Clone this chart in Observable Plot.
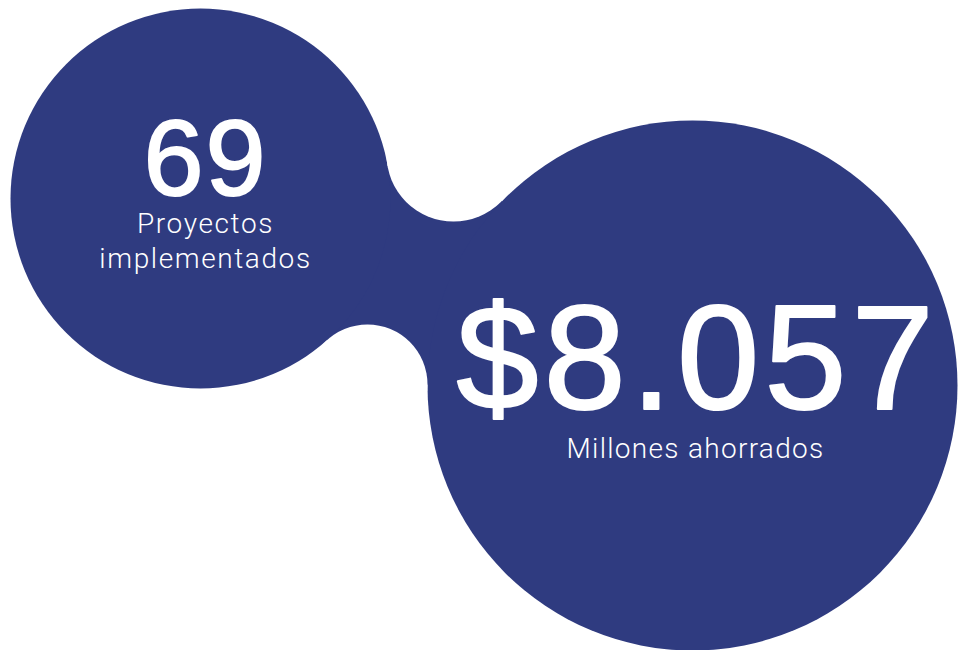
<!DOCTYPE html>
<html>
<head>
<meta charset="utf-8">
<script src="https://cdn.jsdelivr.net/npm/d3@7"></script>
<script src="https://cdn.jsdelivr.net/npm/@observablehq/plot@0.6"></script>
<style>
  html, body { margin: 0; padding: 0; background: #ffffff; }
  #chart svg { display: block; }
</style>
</head>
<body>
<div id="chart"></div>
<script>
// ---- data ----
const metricValues = [69, 8057];
const metricPrefixes = ["", "$"];
const metricLabels = ["Proyectos\nimplementados", "Millones ahorrados"];

// ---- layout (pixel space, not data) ----
const W = 958, H = 650;
const blue = "#2f3b80";
const bubbles = [
  {x: 200, y: 198, r: 190},   // small bubble
  {x: 692, y: 385, r: 265}    // large bubble
];
const fillets = [
  {x: 453, y: 154, r: 67},    // upper neck
  {x: 367, y: 384, r: 60}     // lower neck
];
const neck = [bubbles[0], fillets[0], bubbles[1], fillets[1]];
const valueLayout = [
  {x: 205, y: 194, size: 108, spacing: 2},
  {x: 697, y: 408, size: 148, spacing: 5}
];
const labelLayout = [
  {x: 205, y: 267, size: 28, spacing: 1.6},
  {x: 695, y: 457, size: 28, spacing: 1.3}
];

const es = d3.formatLocale({decimal: ",", thousands: ".", grouping: [3], currency: ["$", ""]});
const fmt = es.format(",d");

const values = metricValues.map((v, i) => ({
  text: metricPrefixes[i] + fmt(v), ...valueLayout[i]
}));
const labels = metricLabels.map((t, i) => ({text: t, ...labelLayout[i]}));

const plot = Plot.plot({
  width: W,
  height: H,
  margin: 0,
  x: {domain: [0, W], range: [0, W], axis: null},
  y: {domain: [0, H], range: [0, H], axis: null},
  r: {type: "identity"},
  style: {background: "#ffffff", overflow: "hidden"},
  marks: [
    Plot.line(neck, {x: "x", y: "y", fill: blue, stroke: blue, strokeWidth: 0, curve: "linear-closed"}),
    Plot.dot(bubbles, {x: "x", y: "y", r: "r", fill: blue, stroke: null}),
    Plot.dot(fillets, {x: "x", y: "y", r: "r", fill: "#ffffff", stroke: null}),
    Plot.text(values, {
      x: "x", y: "y", text: "text", fontSize: d => d.size,
      fill: "#ffffff", stroke: "#ffffff", strokeWidth: 2,
      textAnchor: "middle", lineAnchor: "bottom",
      fontFamily: "'Liberation Sans', Arial, sans-serif"
    }),
    Plot.text(labels, {
      x: "x", y: "y", text: "text", fontSize: d => d.size,
      fill: "#ffffff", textAnchor: "middle", lineAnchor: "bottom", lineHeight: 1.25,
      fontFamily: "Roboto, 'Liberation Sans', sans-serif", fontWeight: 300
    })
  ]
});

// apply per-text letter spacing (text elements are in the same order as the data)
const spacings = [...values, ...labels].map(d => d.spacing);
plot.querySelectorAll("text").forEach((el, i) => {
  if (spacings[i] != null) el.style.letterSpacing = spacings[i] + "px";
});
document.getElementById("chart").appendChild(plot);
</script>
</body>
</html>
